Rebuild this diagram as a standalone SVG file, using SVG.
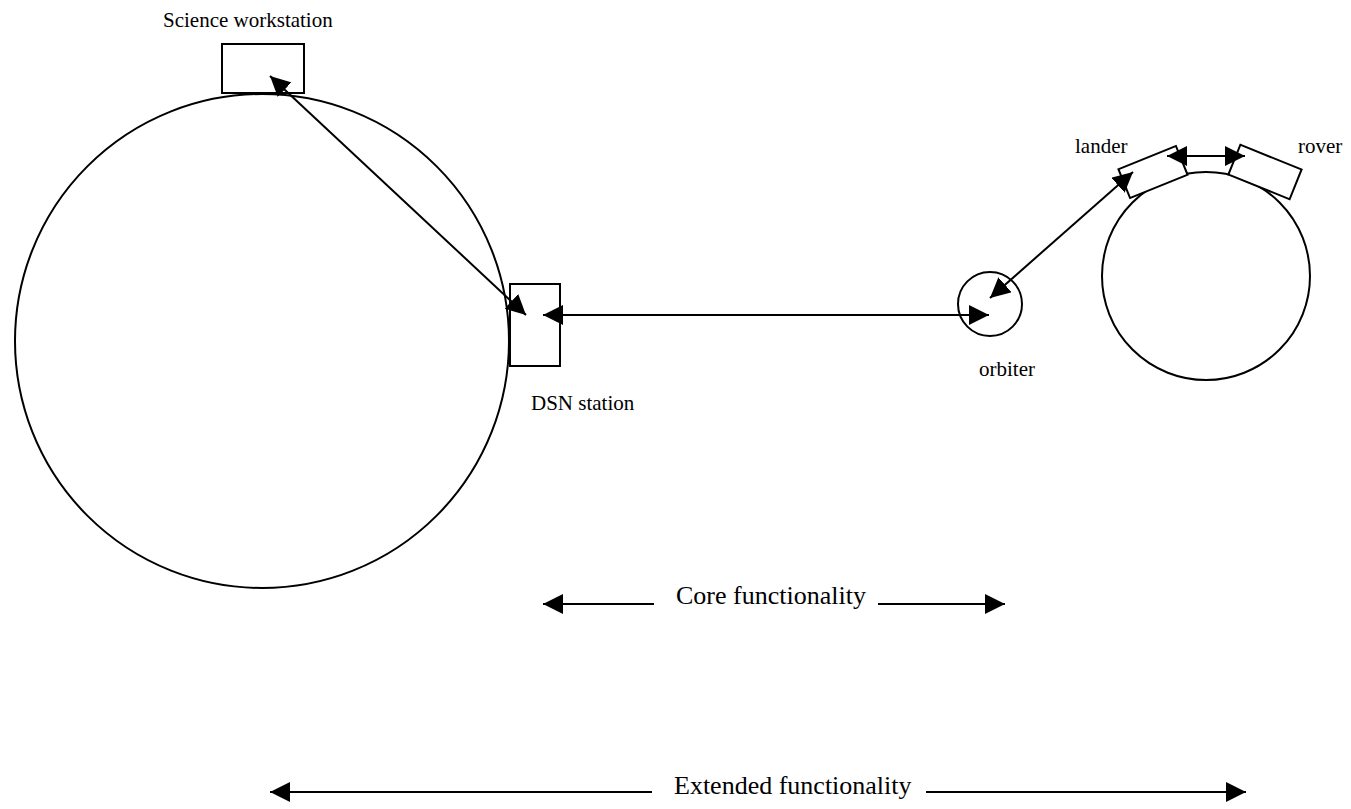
<svg xmlns="http://www.w3.org/2000/svg" width="1351" height="809" viewBox="0 0 1351 809">
<defs>
<marker id="ah" viewBox="0 0 20 20" refX="20" refY="10" markerWidth="20" markerHeight="20" markerUnits="userSpaceOnUse" orient="auto-start-reverse">
<path d="M0,0 L20,10 L0,20 z" fill="#000"/>
</marker>
</defs>
<style>
.s{fill:none;stroke:#000;stroke-width:2}
.w{fill:#fff;stroke:#000;stroke-width:2}
.c{stroke:#000;stroke-width:2;fill:none}
.t{font-family:"Liberation Serif","Times New Roman",serif;fill:#000}
.sm{font-size:21px}
.lg{font-size:26px}
</style>
<rect width="1351" height="809" fill="#fff"/>
<g id="earth"><circle class="s" cx="262" cy="341" r="247"/></g>
<g id="science-workstation"><rect class="w" x="222" y="44" width="82" height="49"/><text class="t sm" x="163" y="27">Science workstation</text></g>
<g id="dsn-station"><rect class="w" x="510" y="284" width="50" height="82"/><text class="t sm" x="531" y="410">DSN station</text></g>
<g id="orbiter"><circle class="s" cx="990" cy="304" r="32"/><text class="t sm" x="979" y="376">orbiter</text></g>
<g id="mars"><circle class="s" cx="1206" cy="276" r="104"/></g>
<g id="lander"><rect class="w" x="-31" y="-15.5" width="62" height="31" transform="translate(1153 172) rotate(-22)"/><text class="t sm" x="1075" y="153">lander</text></g>
<g id="rover"><rect class="w" x="-33" y="-16" width="66" height="32" transform="translate(1265 172) rotate(22)"/><text class="t sm" x="1298" y="153">rover</text></g>
<g id="connectors">
<line class="c" x1="270" y1="76" x2="526" y2="315" marker-start="url(#ah)" marker-end="url(#ah)"/>
<line class="c" x1="543" y1="315" x2="989" y2="315" marker-start="url(#ah)" marker-end="url(#ah)"/>
<line class="c" x1="990" y1="298" x2="1133" y2="172" marker-start="url(#ah)" marker-end="url(#ah)"/>
<line class="c" x1="1167" y1="156" x2="1245" y2="156" marker-start="url(#ah)" marker-end="url(#ah)"/>
<line class="c" x1="654" y1="604" x2="543" y2="604" marker-end="url(#ah)"/>
<line class="c" x1="878" y1="604" x2="1005" y2="604" marker-end="url(#ah)"/>
<line class="c" x1="652" y1="792" x2="270" y2="792" marker-end="url(#ah)"/>
<line class="c" x1="926" y1="792" x2="1246" y2="792" marker-end="url(#ah)"/>
</g>
<g id="labels">
<text class="t lg" x="676" y="604">Core functionality</text>
<text class="t lg" x="674" y="794">Extended functionality</text>
</g>
</svg>
